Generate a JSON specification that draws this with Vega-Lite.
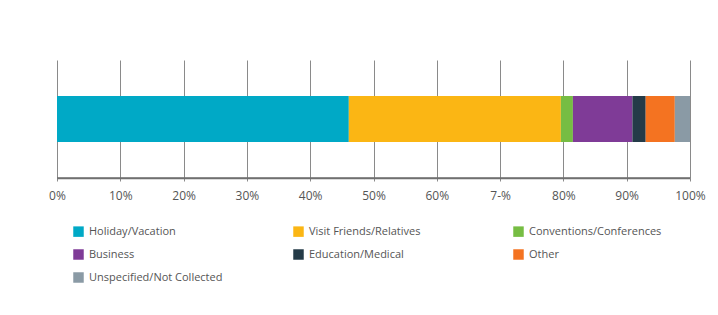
{
  "$schema": "https://vega.github.io/schema/vega-lite/v6.json",
  "autosize": {"type": "none"},
  "padding": {"left": 57, "top": 60, "right": 28, "bottom": 137},
  "width": 633,
  "height": 118,
  "background": "white",
  "datasets": {
    "purposes": [
      {"purpose": "Holiday/Vacation", "share": 46.1, "order": 1},
      {"purpose": "Visit Friends/Relatives", "share": 33.5, "order": 2},
      {"purpose": "Conventions/Conferences", "share": 1.9, "order": 3},
      {"purpose": "Business", "share": 9.4, "order": 4},
      {"purpose": "Education/Medical", "share": 2.1, "order": 5},
      {"purpose": "Other", "share": 4.6, "order": 6},
      {"purpose": "Unspecified/Not Collected", "share": 2.4, "order": 7}
    ],
    "baseline": [{"start": 0, "end": 100}]
  },
  "layer": [
    {
      "data": {"name": "purposes"},
      "mark": {"type": "bar", "size": 46},
      "encoding": {
        "x": {
          "field": "share",
          "type": "quantitative",
          "stack": "zero",
          "scale": {"domain": [0, 100], "nice": false},
          "axis": {
            "values": [0, 10, 20, 30, 40, 50, 60, 70, 80, 90, 100],
            "labelExpr": "datum.value == 70 ? '7-%' : datum.value + '%'",
            "title": null,
            "grid": true,
            "gridColor": "#8a8a8a",
            "gridWidth": 1,
            "domain": true,
            "domainColor": "#707070",
            "domainWidth": 1.5,
            "tickColor": "#8a8a8a",
            "tickSize": 3,
            "labelPadding": 9,
            "labelFlush": false,
            "labelOverlap": false,
            "labelFont": "Open Sans",
            "labelFontSize": 12,
            "labelColor": "#555555"
          }
        },
        "order": {"field": "order", "type": "quantitative"},
        "color": {
          "field": "purpose",
          "type": "nominal",
          "scale": {
            "domain": ["Holiday/Vacation", "Visit Friends/Relatives", "Conventions/Conferences", "Business", "Education/Medical", "Other", "Unspecified/Not Collected"],
            "range": ["#00a9c6", "#fbb614", "#76bd43", "#7f3b97", "#243b48", "#f47321", "#8a9aa5"]
          },
          "legend": {
            "title": null,
            "orient": "none",
            "legendX": 16,
            "legendY": 166,
            "direction": "horizontal",
            "columns": 3,
            "gridAlign": "all",
            "columnPadding": 70,
            "rowPadding": 11,
            "symbolType": "square",
            "symbolSize": 110,
            "symbolStrokeWidth": 0,
            "labelFont": "Open Sans",
            "labelFontSize": 11,
            "labelColor": "#555555",
            "labelOffset": 5,
            "labelLimit": 200
          }
        }
      }
    },
    {
      "data": {"name": "baseline"},
      "mark": {"type": "rule", "color": "#707070", "strokeWidth": 1.5},
      "encoding": {
        "x": {"field": "start", "type": "quantitative"},
        "x2": {"field": "end"},
        "y": {"value": {"expr": "height"}}
      }
    }
  ],
  "config": {
    "view": {"stroke": null}
  }
}
